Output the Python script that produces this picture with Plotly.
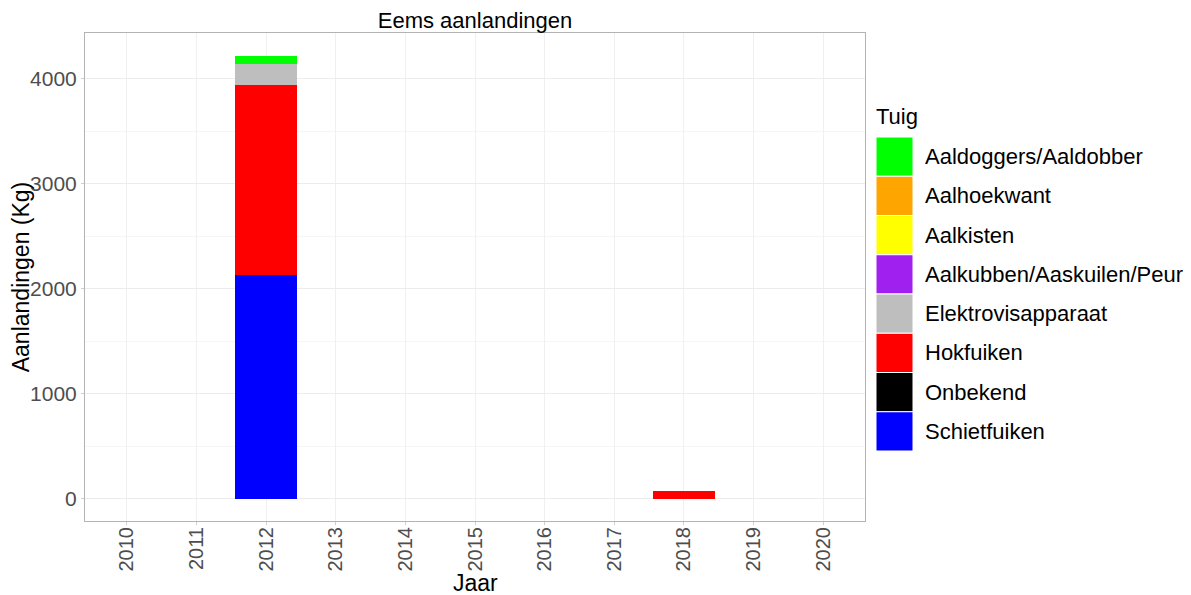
import plotly.graph_objects as go

years = ["2010", "2011", "2012", "2013", "2014", "2015", "2016", "2017", "2018", "2019", "2020"]
tuig = ["Aaldoggers/Aaldobber", "Aalhoekwant", "Aalkisten", "Aalkubben/Aaskuilen/Peur",
        "Elektrovisapparaat", "Hokfuiken", "Onbekend", "Schietfuiken"]
colors = ["#00FF00", "#FFA500", "#FFFF00", "#A020F0", "#BEBEBE", "#FF0000", "#000000", "#0000FF"]

aaldoggers = [0, 0, 80, 0, 0, 0, 0, 0, 0, 0, 0]
aalhoekwant = [0, 0, 0, 0, 0, 0, 0, 0, 0, 0, 0]
aalkisten = [0, 0, 0, 0, 0, 0, 0, 0, 0, 0, 0]
aalkubben = [0, 0, 0, 0, 0, 0, 0, 0, 0, 0, 0]
elektrovis = [0, 0, 200, 0, 0, 0, 0, 0, 0, 0, 0]
hokfuiken = [0, 0, 1810, 0, 0, 0, 0, 0, 80, 0, 0]
onbekend = [0, 0, 0, 0, 0, 0, 0, 0, 0, 0, 0]
schietfuiken = [0, 0, 2130, 0, 0, 0, 0, 0, 0, 0, 0]

series = [aaldoggers, aalhoekwant, aalkisten, aalkubben, elektrovis, hokfuiken, onbekend, schietfuiken]

fig = go.Figure()
# stack: last legend item at bottom
for name, col, vals in reversed(list(zip(tuig, colors, series))):
    fig.add_trace(go.Bar(x=years, y=vals, name=name, marker_color=col,
                         marker_line_width=0, width=0.9, showlegend=False))

FONT = "Liberation Sans, Arial, sans-serif"
OFF = 8  # page body margin
W, H = 1191 - OFF, 595 - OFF
L, T, R, B = 85 - OFF, 33 - OFF, W - (865 - OFF), H - (521 - OFF)

fig.update_layout(
    barmode="stack",
    width=W, height=H,
    margin=dict(l=L, r=R, t=T, b=B, autoexpand=False),
    paper_bgcolor="white", plot_bgcolor="white",
    font=dict(family=FONT, color="#000000"),
    title=dict(text="Eems aanlandingen", x=0.5, xref="paper", xanchor="center",
               y=(H - (20 - OFF)) / H, yref="container", yanchor="middle",
               font=dict(size=22, family=FONT, color="#000000")),
)
fig.update_xaxes(
    type="category", tickangle=-90,
    tickfont=dict(size=20, color="#4d4d4d"),
    ticklabelstandoff=-6,
    showgrid=True, gridcolor="#f0f0f0", gridwidth=1,
    ticks="outside", ticklen=3, tickcolor="#d0d0d0",
    showline=True, linecolor="#b3b3b3", linewidth=1, mirror=True,
    range=[-0.6, 10.6], automargin=False,
)
fig.update_yaxes(
    range=[-210, 4438],
    tickvals=[0, 1000, 2000, 3000, 4000],
    tickfont=dict(size=21, color="#4d4d4d"),
    showgrid=True, gridcolor="#ececec", gridwidth=1,
    minor=dict(tickvals=[500, 1500, 2500, 3500], showgrid=True, gridcolor="#f6f6f6", gridwidth=1),
    ticks="outside", ticklen=3, tickcolor="#d0d0d0",
    showline=True, linecolor="#b3b3b3", linewidth=1, mirror=True,
    zeroline=False, automargin=False,
    title=dict(text="Aanlandingen (Kg)", font=dict(size=23, color="#000000"), standoff=6),
)

plot_w = W - L - R
plot_h = H - T - B
def px_x(px):
    return (px - OFF - L) / plot_w
def px_y(py):
    return 1 - (py - OFF - T) / plot_h

# x axis title
fig.add_annotation(text="Jaar", xref="paper", yref="paper", x=0.5, y=px_y(583),
                   xanchor="center", yanchor="middle", showarrow=False,
                   font=dict(size=23, family=FONT, color="#000000"))

# custom legend (large keys like ggplot)
fig.add_annotation(text="Tuig", xref="paper", yref="paper", x=px_x(874), y=px_y(117),
                   xanchor="left", yanchor="middle", showarrow=False,
                   font=dict(size=22, family=FONT, color="#000000"))
top = 137
step = 39.25
for i, (name, col) in enumerate(zip(tuig, colors)):
    y0 = top + i * step
    y1 = y0 + step
    fig.add_shape(type="rect", xref="paper", yref="paper",
                  x0=px_x(876), x1=px_x(913), y0=px_y(y1), y1=px_y(y0),
                  fillcolor=col, line=dict(color="white", width=1), layer="above")
    fig.add_annotation(text=name, xref="paper", yref="paper", x=px_x(923), y=px_y((y0 + y1) / 2),
                       xanchor="left", yanchor="middle", showarrow=False,
                       font=dict(size=22, family=FONT, color="#000000"))

fig.write_html("out.html")
